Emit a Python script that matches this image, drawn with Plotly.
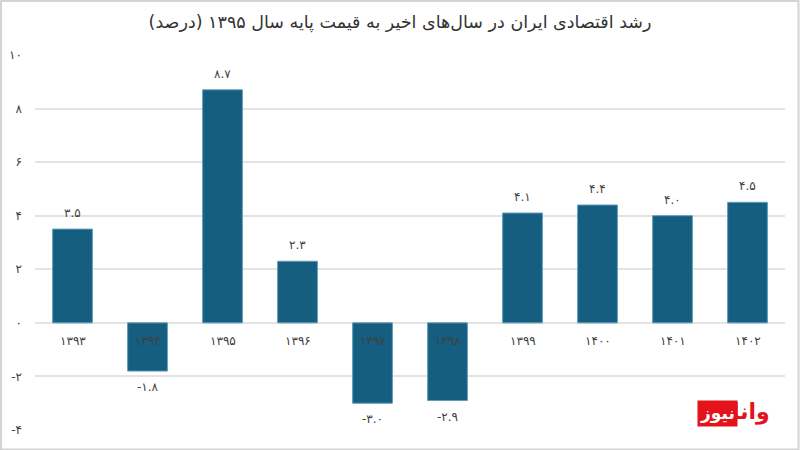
import plotly.graph_objects as go

years = ["۱۳۹۳", "۱۳۹۴", "۱۳۹۵", "۱۳۹۶", "۱۳۹۷", "۱۳۹۸", "۱۳۹۹", "۱۴۰۰", "۱۴۰۱", "۱۴۰۲"]
growth = [3.5, -1.8, 8.7, 2.3, -3.0, -2.9, 4.1, 4.4, 4.0, 4.5]
value_labels = ["۳.۵", "-۱.۸", "۸.۷", "۲.۳", "-۳.۰", "-۲.۹", "۴.۱", "۴.۴", "۴.۰", "۴.۵"]
tick_vals = [-4, -2, 0, 2, 4, 6, 8, 10]
tick_text = ["-۴", "-۲", "۰", "۲", "۴", "۶", "۸", "۱۰"]
title = "رشد اقتصادی ایران در سال‌های اخیر به قیمت پایه سال ۱۳۹۵ (درصد)"

FONT = "DejaVu Sans"
W, H = 800, 450
ml, mr, mt, mb = 35, 15, 55, 20

fig = go.Figure()
fig.add_trace(go.Bar(
    x=years, y=growth,
    marker=dict(color="#155e7f", line=dict(color="#5b9cbb", width=1)),
    width=0.53, cliponaxis=False,
))

for yr, v, lab in zip(years, growth, value_labels):
    fig.add_annotation(x=yr, y=v, text=lab, showarrow=False, yanchor="middle",
                       yshift=16 if v >= 0 else -16,
                       font=dict(family=FONT, size=12, color="#404040"))

for yr in years:
    fig.add_annotation(x=yr, y=0, text=yr, showarrow=False, yanchor="top", yshift=-9,
                       font=dict(family=FONT, size=12, color="#404040"))

pw = W - ml - mr
ph = H - mt - mb
fig.add_shape(type="rect", xref="paper", yref="paper",
              x0=(-ml + 1) / pw, x1=1 + (mr - 1.5) / pw,
              y0=-(mb - 0.5) / ph, y1=1 + (mt - 1) / ph,
              line=dict(color="#d4d4d4", width=2), layer="below")

# watermark
fig.add_annotation(xref="paper", yref="paper", x=(772 - ml) / pw, y=(H - mb - 412) / ph,
                   text="<b>وانا</b>", showarrow=False, xanchor="right", yanchor="middle",
                   font=dict(family=FONT, size=22, color="#e3121b"))
fig.add_annotation(xref="paper", yref="paper", x=(738 - ml) / pw, y=(H - mb - 413) / ph,
                   text="<b>نیوز</b>", showarrow=False, xanchor="right", yanchor="middle",
                   bgcolor="#e3121b", borderpad=2,
                   font=dict(family=FONT, size=17, color="white"))

fig.update_layout(
    width=W, height=H,
    margin=dict(l=ml, r=mr, t=mt, b=mb, autoexpand=False),
    paper_bgcolor="white", plot_bgcolor="white",
    title=dict(text=title, x=0.5, xref="container", y=1 - 22 / H, yanchor="middle",
               font=dict(family=FONT, size=17.5, color="#333333")),
    showlegend=False,
    bargap=0.47,
    xaxis=dict(showticklabels=False, showgrid=False, zeroline=False, showline=False, ticks="",
               automargin=False),
    yaxis=dict(range=[-4, 10], tickvals=tick_vals, ticktext=tick_text,
               showgrid=True, gridcolor="#e3e3e3", gridwidth=1.5,
               zeroline=True, zerolinecolor="#e3e3e3", zerolinewidth=1.5,
               tickfont=dict(family=FONT, size=12, color="#404040"),
               ticks="", ticklabelstandoff=12, fixedrange=True, automargin=False),
    font=dict(family=FONT),
)

fig.write_html("out.html")
